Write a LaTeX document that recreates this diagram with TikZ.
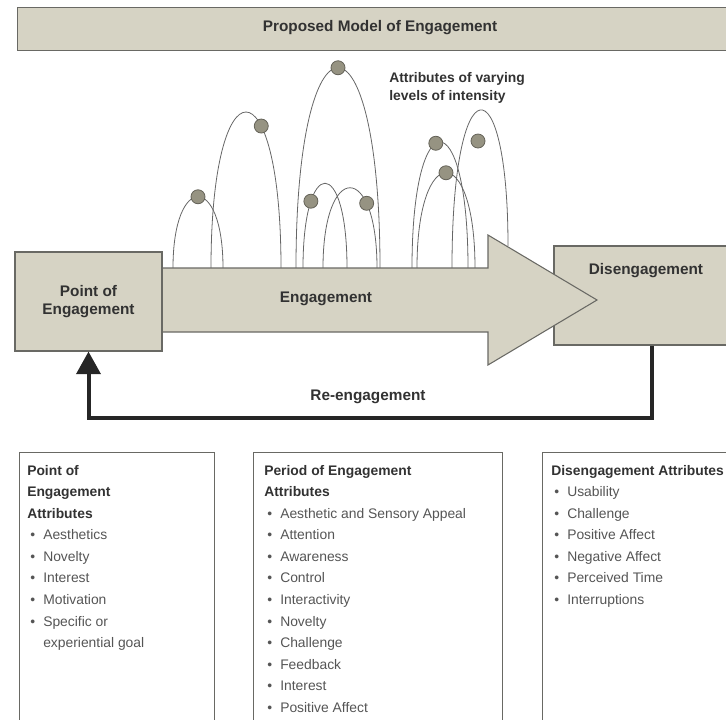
\documentclass[tikz,border=0pt]{standalone}
\usepackage{fontspec}
\setmainfont{Liberation Sans}
\usetikzlibrary{arrows.meta}
\definecolor{beige}{RGB}{214,211,196}
\definecolor{edge}{RGB}{105,105,100}
\definecolor{dotfill}{RGB}{150,147,130}
\definecolor{dotedge}{RGB}{100,98,88}
\definecolor{ink}{RGB}{50,50,50}
\definecolor{inklight}{RGB}{85,85,85}
\newcommand\itm{\hspace*{2.25pt}\makebox[9.75pt][l]{\textbullet}}
\newcommand\hd[1]{\textcolor{ink}{\bfseries #1}}
\begin{document}
\begin{tikzpicture}[x=0.75pt,y=-0.75pt,
  shaded/.style={draw=edge, fill=beige, line width=0.8pt},
  lbl/.style={font=\bfseries\fontsize{11.5}{14}\selectfont, text=ink, align=center},
  arch/.style={draw=black!60, line width=0.6pt},
  dot/.style={circle, fill=dotfill, draw=dotedge, line width=0.6pt, minimum size=10.5pt, inner sep=0pt},
  attrbox/.style={draw=edge, line width=0.7pt},
  attrtext/.style={anchor=north west, inner sep=0pt, align=left, text=inklight, font=\fontsize{10.4}{16.15}\selectfont},
  reline/.style={line width=3pt, draw=black!85, -{Triangle[width=18pt,length=17pt]}}
]
\useasboundingbox (0,0) rectangle (726,719);
\clip (0,0) rectangle (726,719);

% title bar
\node[shaded, lbl, anchor=north west, minimum width=542pt, minimum height=32.25pt, inner sep=0pt] (title) at (17,7) {};
\node[lbl] (titletext) at (380,28) {Proposed Model of Engagement};

% arches of attributes
\draw[arch] (173,268) .. controls (173,173) and (223,173) .. (223,268) node[pos=0.5, dot] (d1) {};
\draw[arch] (211,268) .. controls (211,60) and (281,60) .. (281,268) node[pos=0.65, dot] (d2) {};
\draw[arch] (296,268) .. controls (296,1) and (380,1) .. (380,268) node[pos=0.5, dot] (d3) {};
\draw[arch] (303,268) .. controls (303,155) and (347,155) .. (347,268) node[pos=0.27, dot] (d4) {};
\draw[arch] (323,268) .. controls (323,161) and (377,161) .. (377,268) node[pos=0.72, dot] (d5) {};
\draw[arch] (412,268) .. controls (412,100) and (468,100) .. (468,268) node[pos=0.45, dot] (d6) {};
\draw[arch] (417,268) .. controls (417,141) and (475,141) .. (475,268) node[pos=0.5, dot] (d7) {};
\draw[arch] (452,268) .. controls (452,61) and (508,61) .. (508,246);
\node[dot] (d8) at (478,141) {};

\node[font=\bfseries\fontsize{10.4}{13.5}\selectfont, text=ink, align=left, anchor=north west, inner sep=0pt] (intensity) at (389,72) {Attributes of varying\\levels of intensity};

% disengagement box
\node[shaded, minimum width=139.5pt, minimum height=74.25pt, inner sep=0pt] (dis) at (647,295.5) {};
\node[lbl] (distext) at (646,271) {Disengagement};

% engagement arrow
\filldraw[shaded] (160,268) -- (488,268) -- (488,235) -- (597,300) -- (488,365) -- (488,332) -- (160,332);
\node[lbl] (eng) at (326,299) {Engagement};

% point of engagement box
\node[shaded, lbl, minimum width=110.25pt, minimum height=74.25pt, inner sep=0pt] (poe) at (88.5,301.5) {Point of\\Engagement};

% re-engagement loop
\coordinate (rcorner) at (652,418);
\draw[reline] (dis.south -| rcorner) -- (rcorner) -| (poe.south);
\node[lbl] (reeng) at (368,397) {Re-engagement};

% attribute boxes
\node[attrbox, anchor=north west, minimum width=146.25pt, minimum height=216pt, inner sep=0pt] (box1) at (19,452) {};
\node[attrbox, anchor=north west, minimum width=186.75pt, minimum height=216pt, inner sep=0pt] (box2) at (253,452) {};
\node[attrbox, anchor=north west, minimum width=150pt, minimum height=216pt, inner sep=0pt] (box3) at (542,452) {};

\node[attrtext] (text1) at (27,465) {\hd{Point of}\\\hd{Engagement}\\\hd{Attributes}\\
\itm Aesthetics\\\itm Novelty\\\itm Interest\\\itm Motivation\\\itm Specific or\\\hspace*{12pt}experiential goal};

\node[attrtext] (text2) at (264,465) {\hd{Period of Engagement}\\\hd{Attributes}\\
\itm Aesthetic and Sensory Appeal\\\itm Attention\\\itm Awareness\\\itm Control\\\itm Interactivity\\\itm Novelty\\\itm Challenge\\\itm Feedback\\\itm Interest\\\itm Positive Affect};

\node[attrtext] (text3) at (551,465) {\hd{Disengagement Attributes}\\
\itm Usability\\\itm Challenge\\\itm Positive Affect\\\itm Negative Affect\\\itm Perceived Time\\\itm Interruptions};
\end{tikzpicture}
\end{document}
